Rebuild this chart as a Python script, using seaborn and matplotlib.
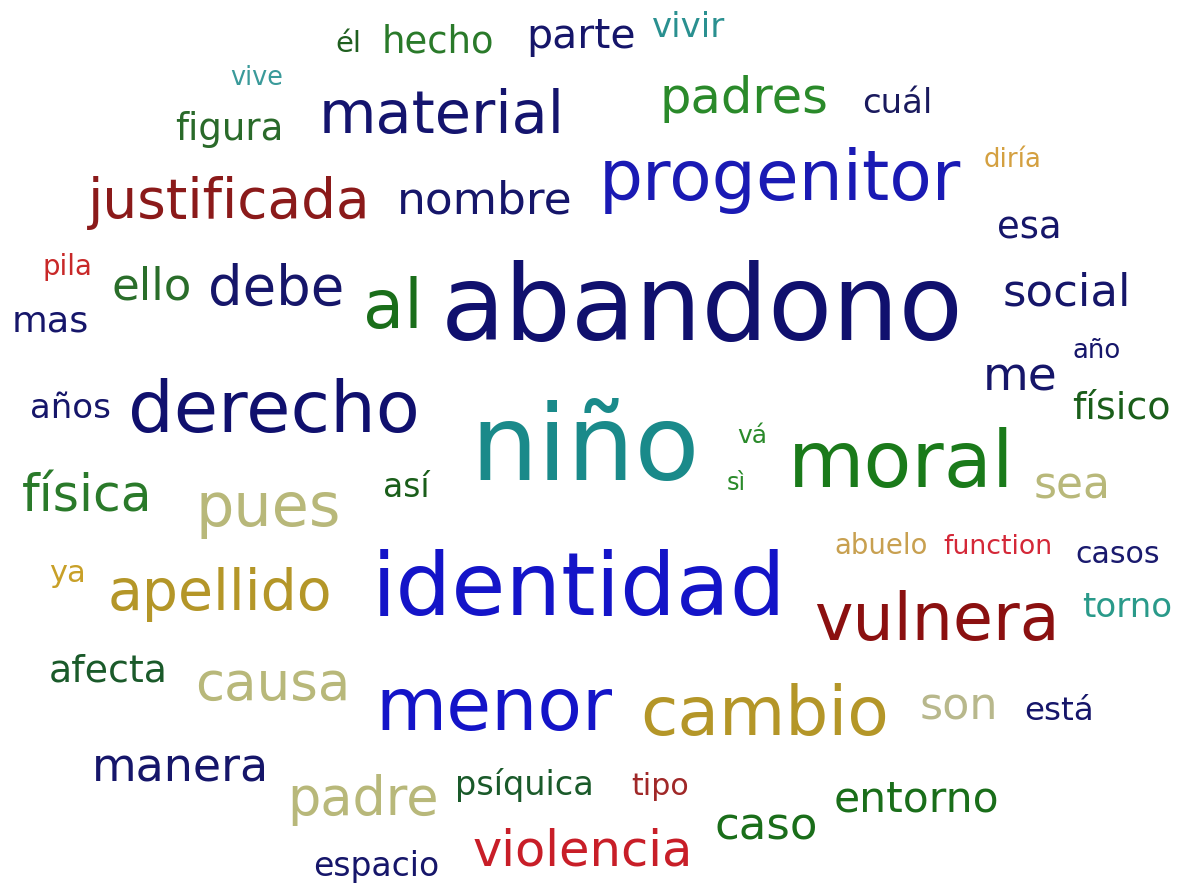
import pandas as pd
import matplotlib.pyplot as plt
import seaborn as sns

# Palabras de la nube
palabras = ['él', 'hecho', 'parte', 'vivir', 'vive', 'material', 'figura', 'padres', 'cuál',
            'progenitor', 'diría', 'justificada', 'nombre', 'esa', 'pila', 'ello', 'debe', 'al',
            'abandono', 'social', 'mas', 'me', 'año', 'años', 'derecho', 'físico', 'niño', 'vá',
            'sì', 'moral', 'sea', 'física', 'pues', 'así', 'abuelo', 'function', 'casos', 'ya',
            'apellido', 'identidad', 'vulnera', 'torno', 'afecta', 'causa', 'menor', 'cambio',
            'son', 'está', 'manera', 'padre', 'psíquica', 'tipo', 'entorno', 'caso', 'violencia',
            'espacio']

# Tamaño relativo (alto de la letra en píxeles)
peso = [29, 37, 41, 34, 25.5, 59, 37, 49.5, 34,
        69.5, 26, 55, 45.5, 37, 27.5, 45, 54.5, 67,
        105, 45, 36.5, 47, 26, 34, 72, 38, 106.5, 25,
        24, 78.5, 44, 50.5, 60.5, 33, 27.5, 26.7, 30, 30.5,
        57, 88, 65, 34, 38, 53, 73, 68,
        44.5, 32.5, 46, 52.5, 33.5, 30, 42.5, 45, 49.5,
        33]

# Posición (centro x, línea base y) en píxeles
pos_x = [348, 438, 581, 689, 257, 442, 229, 744, 897,
         780, 1013, 229, 485, 1029, 67, 152, 276, 393,
         702, 1067, 50, 1020, 1097, 70, 274, 1121, 585, 752,
         736, 901, 1072, 87, 268, 406, 881, 998, 1118, 68,
         220, 579, 937, 1127, 108, 273, 494, 765,
         959, 1059, 180, 363, 524, 660, 916, 766, 583,
         376]
pos_y = [52, 52, 48, 37, 85, 133, 140, 113, 113,
         200, 167, 218, 213, 238, 275, 300, 305, 328,
         340, 305, 331, 390, 358, 418, 432, 418, 480, 443,
         490, 487, 498, 512, 526, 497, 554, 554, 563, 582,
         610, 615, 640, 617, 682, 700, 730, 735,
         720, 720, 781, 815, 795, 795, 812, 840, 865,
         876]

colores = ['#1f5f1f', '#2a7a2a', '#16166a', '#2a9090', '#3a9a9a', '#14146e', '#2a6a2a', '#2a8a2a', '#1a1a5e',
           '#1a1ab4', '#d4a040', '#8b1a1a', '#16166a', '#16166a', '#c82828', '#2a6e2a', '#16166a', '#1a6e1a',
           '#10106e', '#16166a', '#16166a', '#16166a', '#16166a', '#16166a', '#10106e', '#1a5e1a', '#1a8a8a', '#2a8a2a',
           '#2a8a2a', '#1a7a1a', '#b8b87a', '#2a7a2a', '#b8b87a', '#1a5e1a', '#c8a050', '#d42838', '#1a1a6e', '#c8a028',
           '#b49628', '#1414c8', '#8b1010', '#2a9a8a', '#1a5a2a', '#b8b87a', '#1414c8', '#b49628',
           '#b8b88c', '#16166a', '#16166a', '#b8b87a', '#1a5a2a', '#a02828', '#1a6e1a', '#1a6e1a', '#c81e28',
           '#16166a']

df = pd.DataFrame({'palabra': palabras, 'peso': peso, 'x': pos_x, 'y': pos_y, 'color': colores})

sns.set_theme(style='white')
plt.rcParams['font.family'] = ['DejaVu Sans']

fig = plt.figure(figsize=(11.82, 8.86), dpi=100)
ax = fig.add_axes([0, 0, 1, 1])
ax.set_xlim(0, 1182)
ax.set_ylim(886, 0)
ax.axis('off')

for _, fila in df.iterrows():
    ax.text(fila['x'], fila['y'], fila['palabra'], color=fila['color'],
            fontsize=fila['peso'] * 0.72, ha='center', va='baseline')

fig.savefig('out.png', dpi=100, facecolor='white')
